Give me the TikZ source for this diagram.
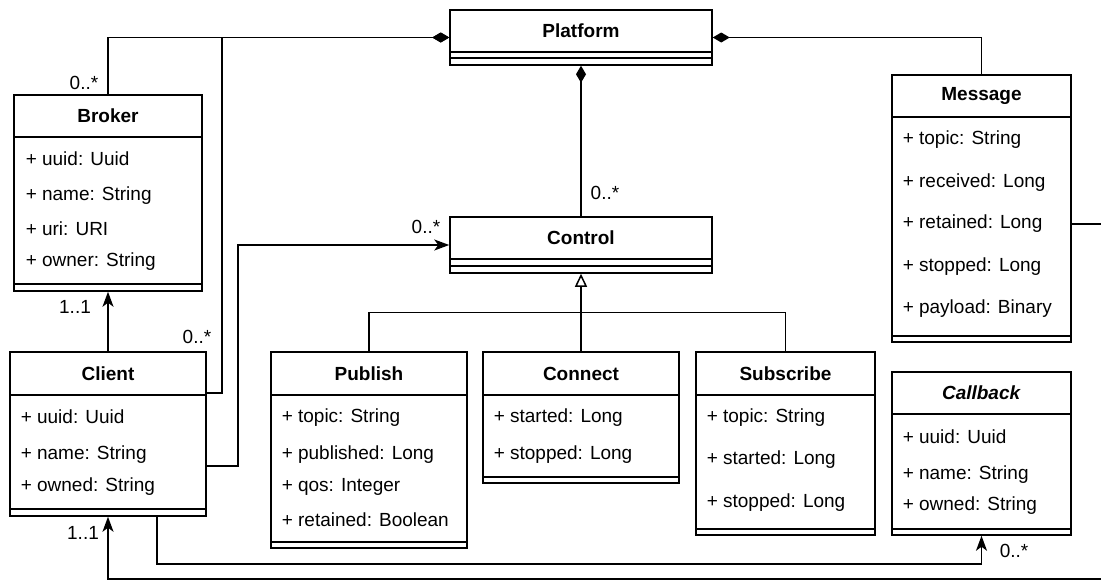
\documentclass[tikz,border=0pt]{standalone}
\usepackage{fontspec}
\setmainfont{Liberation Sans}
\usetikzlibrary{arrows.meta,calc,fit}

\newcommand\umlclass[8]{%
  \coordinate (#1-a) at (#2,#3);
  \coordinate (#1-b) at (#4,#5);
  \node[fit=(#1-a)(#1-b), draw, inner sep=0pt, fill=white] (#1) {};
  \draw (#2,#6) -- (#4,#6) (#2,#7) -- (#4,#7);
  \node[ttl] (#1-title) at ($(#1-a)!0.5!(#4,#6)$) {#8};
}
\newcommand\umlattr[4]{\node[attr] (#1) at (#2,#3) {#4};}

\begin{document}
\begin{tikzpicture}[x=1pt,y=-1pt, line width=1.5pt,
  txt/.style={font=\fontsize{19}{22}\selectfont, inner sep=0pt},
  ttl/.style={inner sep=0pt, font=\fontsize{19}{22}\selectfont\bfseries},
  attr/.style={txt, anchor=west},
  mult/.style={txt},
  comp/.style={{Diamond[length=17pt,width=10pt]}-},
  assoc/.style={-{Stealth[length=15pt,width=11pt,inset=4pt]}},
  gen/.style={-{Triangle[open,length=13pt,width=12pt,line width=1.5pt]}}]
\useasboundingbox (0,0) rectangle (1101,581);

% classes
\umlclass{Platform}{450}{10}{712}{65}{52}{58}{Platform}
\umlclass{Control}{450}{217}{712}{273}{259}{266}{Control}
\umlclass{Broker}{14}{95}{202}{291}{137}{284}{Broker}
\umlattr{broker-uuid}{25}{159}{+ uuid: Uuid}
\umlattr{broker-name}{25}{196}{+ name: String}
\umlattr{broker-uri}{25}{229}{+ uri: URI}
\umlattr{broker-owner}{25}{262}{+ owner: String}

\umlclass{Client}{10}{352}{206}{516}{395}{509}{Client}
\umlattr{client-uuid}{20}{417}{+ uuid: Uuid}
\umlattr{client-name}{20}{455}{+ name: String}
\umlattr{client-owned}{20}{487}{+ owned: String}

\umlclass{Publish}{271}{352}{467}{548}{395}{542}{Publish}
\umlattr{pub-topic}{281}{418}{+ topic: String}
\umlattr{pub-published}{281}{455}{+ published: Long}
\umlattr{pub-qos}{281}{487}{+ qos: Integer}
\umlattr{pub-retained}{281}{520}{+ retained: Boolean}

\umlclass{Connect}{483}{352}{679}{483}{395}{477}{Connect}
\umlattr{con-started}{493}{418}{+ started: Long}
\umlattr{con-stopped}{493}{455}{+ stopped: Long}

\umlclass{Subscribe}{696}{352}{875}{535}{395}{529}{Subscribe}
\umlattr{sub-topic}{706}{418}{+ topic: String}
\umlattr{sub-started}{706}{460}{+ started: Long}
\umlattr{sub-stopped}{706}{503}{+ stopped: Long}

\umlclass{Callback}{892}{372}{1071}{535}{414}{529}{\textit{Callback}}
\umlattr{cb-uuid}{902}{437}{+ uuid: Uuid}
\umlattr{cb-name}{902}{475}{+ name: String}
\umlattr{cb-owned}{902}{506}{+ owned: String}

\umlclass{Message}{892}{75}{1071}{342}{117}{336}{Message}
\umlattr{msg-topic}{902}{140}{+ topic: String}
\umlattr{msg-received}{902}{183}{+ received: Long}
\umlattr{msg-retained}{902}{224}{+ retained: Long}
\umlattr{msg-stopped}{902}{267}{+ stopped: Long}
\umlattr{msg-payload}{902}{309}{+ payload: Binary}

% helper coordinates
\coordinate (c1) at (222,393);
\coordinate (c2) at (238,466);
\coordinate (c3) at (157,564);
\coordinate (m1) at (1101,224);
\coordinate (m2) at (1101,579);

% composition connectors
\draw[comp] (Platform.west) -| (Broker.north);
\draw[comp] (Platform.west) -| (c1) -- (c1 -| Client.east);
\draw[comp] (Platform.south) -- (Control.north);
\draw[comp] (Platform.east) -| (Message.north);

% generalization
\draw[gen] (Connect.north) -- (Control.south);
\draw (Publish.north) -- ++(0,-39) -| (Subscribe.north);

% associations
\draw[assoc] (Client.north) -- (Broker.south);
\draw[assoc] (c2 -| Client.east) -- (c2) |- (Control.west);
\draw[assoc] (c3 |- Client.south) -- (c3) -| (Callback.south);
\draw (m1 -| Message.east) -- (m1);
\draw[assoc] (m2) -| (Client.south);

% multiplicities
\node[mult] (mul-broker) at (84,83) {0..*};
\node[mult] (mul-client-plat) at (197,337) {0..*};
\node[mult] (mul-control) at (605,193) {0..*};
\node[mult] (mul-control2) at (426,227) {0..*};
\node[mult] (mul-broker2) at (75,307) {1..1};
\node[mult] (mul-callback) at (1014,551) {0..*};
\node[mult] (mul-client2) at (83,533) {1..1};
\end{tikzpicture}
\end{document}
